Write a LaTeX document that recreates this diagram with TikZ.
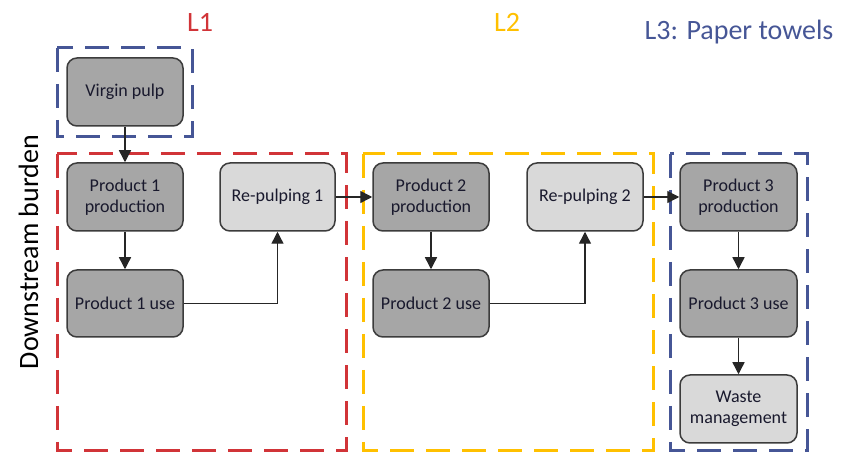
\documentclass[tikz,border=0pt]{standalone}
\usepackage{fontspec}
\setmainfont{Carlito}
\usetikzlibrary{arrows.meta}
\definecolor{lred}{RGB}{209,52,56}
\definecolor{lyellow}{RGB}{255,192,0}
\definecolor{lblue}{RGB}{70,86,150}
\definecolor{boxdark}{RGB}{166,166,166}
\definecolor{boxlight}{RGB}{217,217,217}
\definecolor{boxline}{RGB}{60,60,60}
\definecolor{boxtext}{RGB}{25,25,45}
\tikzset{
  stage/.style={draw=boxline, line width=1.5pt, rounded corners=10pt,
    minimum width=116pt, minimum height=68pt, align=center, inner sep=2pt,
    text=boxtext, font=\fontsize{18}{21.5}\selectfont},
  darkstage/.style={stage, fill=boxdark},
  lightstage/.style={stage, fill=boxlight},
  flow/.style={line width=1.4pt, draw=black!85,
    -{Triangle[length=12pt,width=12pt]}},
  life/.style={line width=3pt, dash pattern=on 24pt off 12pt},
  lifelabel/.style={font=\fontsize{28}{32}\selectfont, anchor=base}
}
\begin{document}
\begin{tikzpicture}[x=1pt,y=-1pt]
\useasboundingbox (0,0) rectangle (855,454);

% life-cycle boundaries
\draw[life, lblue] (57,48) rectangle (192,137);
\draw[life, lred] (57,154) rectangle (346,451);
\draw[life, lyellow] (363,154) rectangle (653,451);
\draw[life, lblue] (670,154) rectangle (807,451);

% boundary labels
\node[lifelabel, text=lred] (l1) at (200,32) {L1};
\node[lifelabel, text=lyellow] (l2) at (507,32) {L2};
\node[lifelabel, text=lblue] (l3) at (739,40) {L3: Paper towels};
\node[font=\fontsize{28}{32}\selectfont, rotate=90, anchor=base] (db) at (38,252) {Downstream burden};

% process stages
\node[darkstage] (vp) at (125,92) {Virgin pulp};
\node[darkstage] (p1p) at (125,197) {Product 1\\production};
\node[darkstage, minimum height=67pt] (p1u) at (125,303.5) {Product 1 use};
\node[lightstage, minimum width=115pt] (r1) at (277.5,197) {Re-pulping 1};
\node[darkstage] (p2p) at (431,197) {Product 2\\production};
\node[darkstage, minimum height=67pt] (p2u) at (431,303.5) {Product 2 use};
\node[lightstage] (r2) at (585,197) {Re-pulping 2};
\node[darkstage, minimum width=117pt] (p3p) at (738.5,197) {Product 3\\production};
\node[darkstage, minimum width=117pt, minimum height=67pt] (p3u) at (738.5,303.5) {Product 3 use};
\node[lightstage, minimum width=117pt] (wm) at (738.5,409) {Waste\\management};

% material flows
\draw[flow] (vp) -- (p1p);
\draw[flow] (p1p) -- (p1u);
\draw[flow] (p1u.east) -| (r1.south);
\draw[flow] (r1) -- (p2p);
\draw[flow] (p2p) -- (p2u);
\draw[flow] (p2u.east) -| (r2.south);
\draw[flow] (r2) -- (p3p);
\draw[flow] (p3p) -- (p3u);
\draw[flow] (p3u) -- (wm);
\end{tikzpicture}
\end{document}
